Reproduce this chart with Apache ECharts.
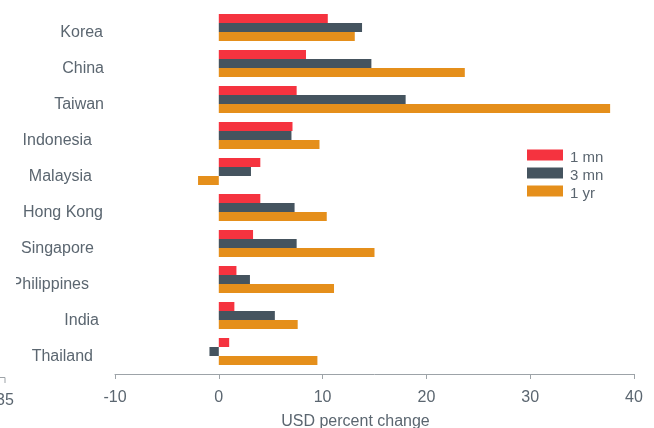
<!DOCTYPE html>
<html>
<head>
<meta charset="utf-8">
<script src="https://cdn.jsdelivr.net/npm/echarts@6/dist/echarts.min.js"></script>
<style>
  html, body { margin: 0; padding: 0; background: #ffffff; }
  #chart { width: 654px; height: 428px; }
</style>
</head>
<body>
<div id="chart"></div>
<script>
// Asian currencies vs USD: percent change over three horizons
const categories = ['Korea', 'China', 'Taiwan', 'Indonesia', 'Malaysia', 'Hong Kong', 'Singapore', 'Philippines', 'India', 'Thailand'];
const seriesNames = ['1 mn', '3 mn', '1 yr'];
const oneMonth   = [10.5, 8.4, 7.5, 7.1, 4.0, 4.0, 3.3, 1.7, 1.5, 1.0];
const threeMonth = [13.8, 14.7, 18.0, 7.0, 3.1, 7.3, 7.5, 3.0, 5.4, -0.9];
const oneYear    = [13.1, 23.7, 37.7, 9.7, -2.0, 10.4, 15.0, 11.1, 7.6, 9.5];
const axisMin = -10, axisMax = 40, axisStep = 10;
const axisTitle = 'USD percent change';

// per-label right indent of the category names (layout only)
const labelIndent = [1, 0, 0, 12, 12, 1, 10, 15, 5, 11];

const textColor = '#5b6670';
const lineColor = '#9da3a8';
const colors = ['#f5333f', '#45545f', '#e58f1b'];
const font = 'Arial, "Liberation Sans", Helvetica, sans-serif';

const rich = {};
labelIndent.forEach((r, i) => {
  rich['c' + i] = { padding: [11, r, 0, 0], fontSize: 16, color: textColor, fontFamily: font };
});

const chart = echarts.init(document.getElementById('chart'), null, { renderer: 'canvas' });

chart.setOption({
  animation: false,
  backgroundColor: '#ffffff',
  color: colors,
  textStyle: { fontFamily: font },
  grid: { left: 115, right: 20, top: 9.5, bottom: 58.5, containLabel: false, outerBoundsMode: 'none' },
  legend: {
    orient: 'vertical',
    left: 522,
    top: 140,
    itemWidth: 36,
    itemHeight: 11,
    itemGap: -2,
    icon: 'rect',
    data: seriesNames,
    formatter: name => '{t|' + name + '}',
    textStyle: {
      fontSize: 15, color: textColor, fontFamily: font,
      rich: { t: { fontSize: 15, lineHeight: 13, color: textColor, fontFamily: font, padding: [5, 0, 0, 2] } }
    }
  },
  xAxis: {
    type: 'value',
    min: axisMin,
    max: axisMax,
    interval: axisStep,
    offset: 4.5,
    name: axisTitle,
    nameLocation: 'middle',
    nameGap: 40,
    nameTextStyle: { fontSize: 16, color: textColor, fontFamily: font, padding: [0, 38, 0, 0] },
    axisLine: { show: true, onZero: false, lineStyle: { color: lineColor, width: 1 } },
    axisTick: { show: true, length: 5, lineStyle: { color: lineColor } },
    axisLabel: { margin: 16, fontSize: 16, color: textColor, fontFamily: font },
    splitLine: { show: false }
  },
  yAxis: {
    type: 'category',
    inverse: true,
    data: categories,
    axisLine: { show: false },
    axisTick: { show: false },
    axisLabel: {
      margin: 11,
      formatter: (v, i) => '{c' + i + '|' + v + '}',
      rich: rich
    }
  },
  series: [
    { name: seriesNames[0], type: 'bar', data: oneMonth, barGap: '0%', barCategoryGap: '25%' },
    { name: seriesNames[1], type: 'bar', data: threeMonth, barGap: '0%', barCategoryGap: '25%' },
    { name: seriesNames[2], type: 'bar', data: oneYear, barGap: '0%', barCategoryGap: '25%' }
  ],
  graphic: [
    // edge of the neighbouring panel's axis at the left border
    { type: 'polyline', shape: { points: [[0, 377.5], [5, 377.5], [5, 383]] }, style: { stroke: lineColor, lineWidth: 1, fill: null } },
    { type: 'text', x: 5, y: 393, style: { text: '35', fontSize: 16, fill: textColor, font: '16px ' + font, textAlign: 'center' } },
    // panel border clips the leading letter of the long label
    { type: 'rect', shape: { x: 0, y: 274, width: 16, height: 20 }, style: { fill: '#ffffff' }, z: 100 }
  ]
});
</script>
</body>
</html>
